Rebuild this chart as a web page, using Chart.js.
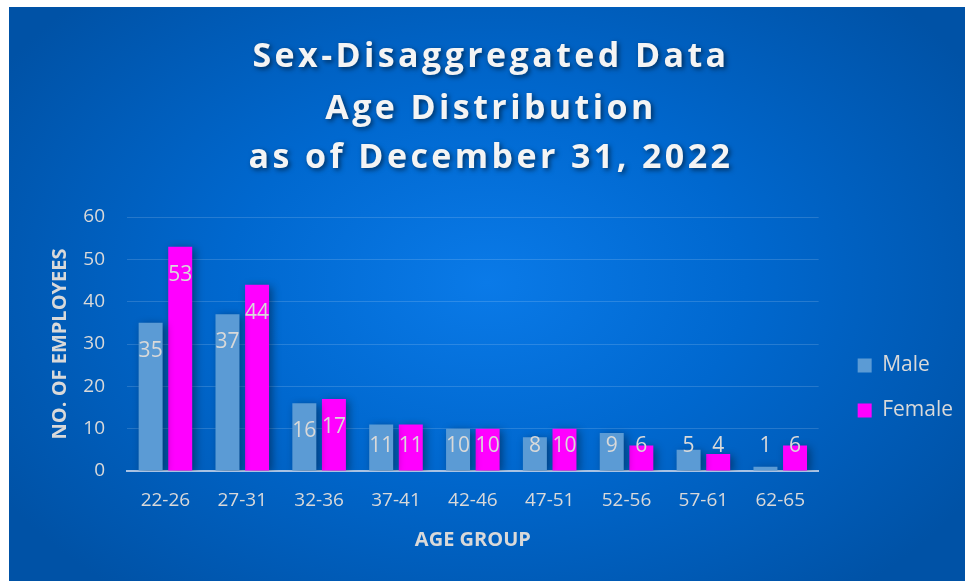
<!DOCTYPE html>
<html>
<head>
<meta charset="utf-8">
<script src="https://cdn.jsdelivr.net/npm/chart.js@4/dist/chart.umd.min.js"></script>
<style>
  html, body { margin: 0; padding: 0; background: #fff; }
  #wrap {
    position: absolute; left: 9px; top: 7px; width: 956px; height: 574px;
    background: radial-gradient(ellipse 60% 70% at 50% 48%, #0a7ae8 0%, #0068cf 45%, #0052a6 100%);
  }
</style>
</head>
<body>
<div id="wrap"><canvas id="ageChart" width="956" height="574"></canvas></div>
<script>
// chart data
const titleLines = ['Sex-Disaggregated Data', 'Age Distribution', 'as of December 31, 2022'];
const ageGroups = ['22-26', '27-31', '32-36', '37-41', '42-46', '47-51', '52-56', '57-61', '62-65'];
const maleCounts = [35, 37, 16, 11, 10, 8, 9, 5, 1];
const femaleCounts = [53, 44, 17, 11, 10, 10, 6, 4, 6];
const yTicks = [0, 10, 20, 30, 40, 50, 60];

const textGrey = '#d9d9d9';
const fontFamily = '"Open Sans", "Liberation Sans", sans-serif';

// title drawn with a soft shadow like the original
const titlePlugin = {
  id: 'shadowTitle',
  beforeDraw(chart) {
    const ctx = chart.ctx;
    ctx.save();
    ctx.font = 'bold 34px ' + fontFamily;
    ctx.letterSpacing = '3.4px';
    ctx.fillStyle = '#f4f4f4';
    ctx.textAlign = 'center';
    ctx.textBaseline = 'alphabetic';
    ctx.shadowColor = 'rgba(0,0,0,0.55)';
    ctx.shadowBlur = 5;
    ctx.shadowOffsetX = 2;
    ctx.shadowOffsetY = 2;
    const baselines = [60, 112, 161];
    titleLines.forEach((line, i) => {
      ctx.fillText(line, chart.width / 2 + 4, baselines[i]);
    });
    ctx.restore();
  }
};

// bar shadows + labels at inside end
const barPlugin = {
  id: 'barExtras',
  beforeDatasetsDraw(chart) {
    const ctx = chart.ctx;
    ctx.save();
    ctx.shadowColor = 'rgba(0,0,0,0.4)';
    ctx.shadowBlur = 8;
    ctx.shadowOffsetX = 3;
    ctx.shadowOffsetY = 2;
  },
  afterDatasetsDraw(chart) {
    const ctx = chart.ctx;
    ctx.restore();
    ctx.save();
    ctx.font = '21px ' + fontFamily;
    ctx.fillStyle = textGrey;
    ctx.textAlign = 'center';
    ctx.textBaseline = 'middle';
    const base = chart.scales.y.getPixelForValue(0);
    chart.data.datasets.forEach((ds, di) => {
      chart.getDatasetMeta(di).data.forEach((bar, i) => {
        const y = Math.min(bar.y + 28, base - 25);
        ctx.fillText(String(ds.data[i]), bar.x, y);
      });
    });
    ctx.restore();
  },
  afterLayout(chart) {
    // nudge legend to where the original sits
    const lg = chart.legend;
    lg.left += 15; lg.right += 15;
    lg.top += 3; lg.bottom += 3;
  }
};

const ctx = document.getElementById('ageChart').getContext('2d');
new Chart(ctx, {
  type: 'bar',
  data: {
    labels: ageGroups,
    datasets: [{
      label: 'Male',
      data: maleCounts,
      backgroundColor: '#5b9bd5',
      categoryPercentage: 0.77,
      barPercentage: 0.81
    }, {
      label: 'Female',
      data: femaleCounts,
      backgroundColor: '#ff00ff',
      categoryPercentage: 0.77,
      barPercentage: 0.81
    }]
  },
  options: {
    responsive: false,
    animation: false,
    layout: {
      padding: { left: 35, top: 210, right: 17, bottom: 28 }
    },
    plugins: {
      title: { display: false },
      tooltip: { enabled: false },
      legend: {
        position: 'right',
        labels: {
          color: textGrey,
          font: { family: fontFamily, size: 21 },
          boxWidth: 14,
          boxHeight: 14,
          padding: 24
        }
      }
    },
    scales: {
      x: {
        afterFit(axis) { axis.height = 82; },
        grid: { display: false, drawTicks: false },
        border: { display: true, color: '#a9c3e4', width: 2 },
        ticks: {
          color: textGrey,
          font: { family: fontFamily, size: 19 },
          padding: 18
        },
        title: {
          display: true,
          text: 'AGE GROUP',
          color: textGrey,
          font: { family: fontFamily, size: 20, weight: 'bold' },
          padding: { top: 10, bottom: 1 }
        }
      },
      y: {
        min: 0,
        max: 60,
        afterFit(axis) { axis.width = 83; },
        afterBuildTicks(axis) {
          axis.ticks = yTicks.map(v => ({ value: v }));
        },
        grid: { color: 'rgba(255,255,255,0.15)', lineWidth: 1, drawTicks: false },
        border: { display: false },
        ticks: {
          color: textGrey,
          font: { family: fontFamily, size: 19 },
          padding: 22
        },
        title: {
          display: true,
          text: 'NO. OF EMPLOYEES',
          color: textGrey,
          font: { family: fontFamily, size: 20, weight: 'bold' },
          padding: { top: 4, bottom: 0 }
        }
      }
    }
  },
  plugins: [titlePlugin, barPlugin]
});
</script>
</body>
</html>
